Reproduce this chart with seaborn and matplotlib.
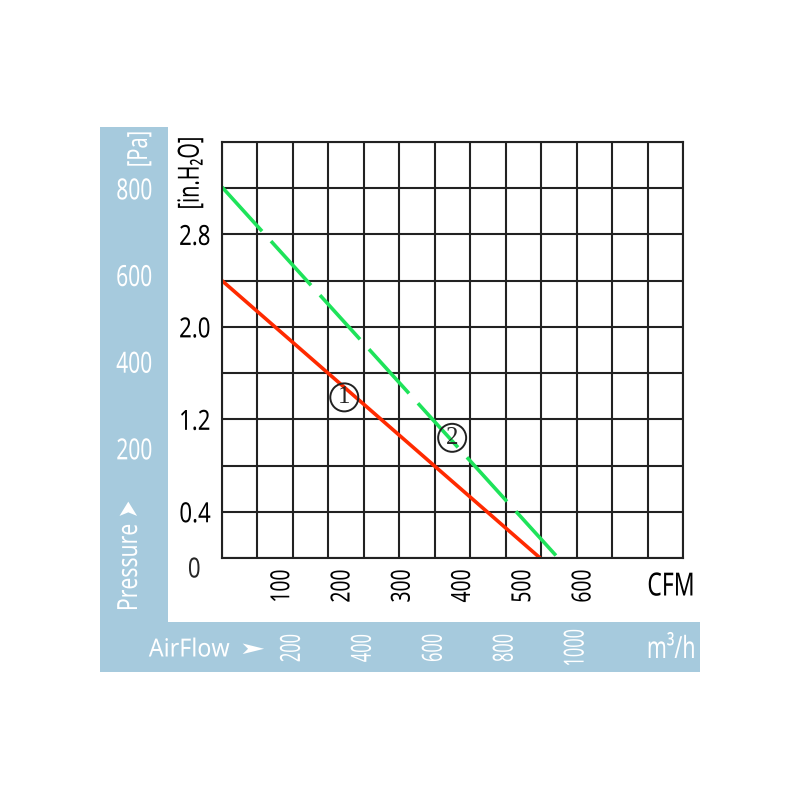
import seaborn as sns
import matplotlib.pyplot as plt
from matplotlib.patches import Rectangle
from matplotlib.patheffects import AbstractPathEffect
import matplotlib.transforms as mtransforms

# Fan curves (airflow in CFM, static pressure in in.H2O)
curve_1_cfm = [0, 528]
curve_1_inh2o = [2.40, 0.0]
curve_2_cfm = [0, 558]
curve_2_inh2o = [3.21, 0.0]

# where the curve numbers sit
curve_labels = ['1', '2']
curve_label_cfm = [203, 382]
curve_label_inh2o = [1.39, 1.04]

# axis ticks
cfm_ticks = [100, 200, 300, 400, 500, 600]
inh2o_ticks = [0.4, 1.2, 2.0, 2.8]
pa_ticks = [200, 400, 600, 800]
m3h_ticks = [200, 400, 600, 800, 1000]

M3H_PER_CFM = 1.699
grid_m3h = list(range(0, 1400, 100))          # vertical grid every 100 m3/h
grid_inh2o = [i * 0.4 for i in range(10)]     # horizontal grid every 0.4 in.H2O
pa_range = (-53, 907)                          # Pa scale as printed on the chart

band = '#a6cadd'
ink = '#222222'


class Narrow(AbstractPathEffect):
    """squeeze text along its baseline - the chart uses a very condensed face"""

    def __init__(self, factor, anchor='center'):
        super().__init__()
        self.factor = factor
        self.anchor = anchor

    def draw_path(self, renderer, gc, tpath, affine, rgbFace=None):
        ext = tpath.get_extents()
        cx = {'left': ext.x0, 'right': ext.x1}.get(self.anchor, (ext.x0 + ext.x1) / 2)
        squeeze = mtransforms.Affine2D().translate(-cx, 0).scale(self.factor, 1).translate(cx, 0)
        renderer.draw_path(gc, tpath, squeeze + affine, rgbFace)


sns.set_style('white')
plt.rcParams['font.family'] = ['Noto Sans', 'DejaVu Sans']

fig = plt.figure(figsize=(8, 8), dpi=100)


def ftext(x, y, s, factor, anchor='center', **kw):
    t = fig.text(x, y, s, **kw)
    t.set_path_effects([Narrow(factor, anchor)])
    return t


# light blue L-shaped band
fig.add_artist(Rectangle((0.125, 0.16), 0.085, 0.68125, transform=fig.transFigure,
                         facecolor=band, edgecolor='none', zorder=0))
fig.add_artist(Rectangle((0.125, 0.16), 0.75, 0.0625, transform=fig.transFigure,
                         facecolor=band, edgecolor='none', zorder=0))

ax = fig.add_axes([0.2775, 0.3025, 0.57625, 0.52])

sns.lineplot(x=curve_1_cfm, y=curve_1_inh2o, ax=ax, color='#ff2a00', linewidth=2.6)
sns.lineplot(x=curve_2_cfm, y=curve_2_inh2o, ax=ax, color='#1ee35a', linewidth=2.6,
             linestyle=(0, (16.5, 3.7)))

ax.set_xlim(0, grid_m3h[-1] / M3H_PER_CFM)
ax.set_ylim(0, grid_inh2o[-1])

# grid
ax.set_xticks([v / M3H_PER_CFM for v in grid_m3h], minor=True)
ax.set_yticks(grid_inh2o, minor=True)
ax.set_axisbelow(True)
ax.xaxis.grid(True, which='minor', color=ink, linewidth=1.5)
ax.yaxis.grid(True, which='both', color=ink, linewidth=1.5)
for s in ax.spines.values():
    s.set_color(ink)
    s.set_linewidth(1.5)

# CFM ticks
ax.set_xticks(cfm_ticks)
ax.set_xticklabels([str(v) for v in cfm_ticks], rotation=90)
ax.tick_params(axis='x', which='major', direction='in', length=4, width=1.4,
               color=ink, pad=8, labelsize=19, labelcolor='black')
ax.tick_params(which='minor', length=0)
for t in ax.get_xticklabels():
    t.set_path_effects([Narrow(0.73, 'right')])

# in.H2O ticks
ax.set_yticks(inh2o_ticks)
ax.set_yticklabels([f'{v:.1f}' for v in inh2o_ticks])
ax.tick_params(axis='y', which='major', length=0, pad=8, labelsize=20, labelcolor='black')
for t in ax.get_yticklabels():
    t.set_path_effects([Narrow(0.8, 'right')])
zero = ax.annotate('0', xy=(0, 0), xycoords=('axes fraction', 'data'), xytext=(-20, -9),
                   textcoords='offset points', ha='center', va='center', fontsize=20)
zero.set_path_effects([Narrow(0.8)])

# curve numbers in circles
for lab, x, y in zip(curve_labels, curve_label_cfm, curve_label_inh2o):
    ax.text(x, y, lab, ha='center', va='center', fontsize=18, family='Liberation Serif',
            bbox=dict(boxstyle='circle,pad=0.12', facecolor='none', edgecolor=ink, lw=1.4))

# Pa scale in the blue band
ax_pa = ax.twinx()
ax_pa.set_ylim(*pa_range)
ax_pa.set_yticks(pa_ticks)
ax_pa.set_yticklabels([str(v) for v in pa_ticks])
ax_pa.yaxis.set_ticks_position('left')
ax_pa.tick_params(axis='y', length=0, pad=50, labelsize=21, labelcolor='white',
                  labelleft=True, labelright=False)
for t in ax_pa.get_yticklabels():
    t.set_path_effects([Narrow(0.72, 'right')])
for s in ax_pa.spines.values():
    s.set_visible(False)
ax_pa.grid(False)

# m3/h scale in the bottom band
mix = mtransforms.blended_transform_factory(ax.transData, fig.transFigure)
for v in m3h_ticks:
    t = ax.text(v / M3H_PER_CFM, 1 - 648 / 800, str(v), transform=mix, rotation=90,
                ha='center', va='center', fontsize=20, color='white', clip_on=False)
    t.set_path_effects([Narrow(0.59)])

# unit and axis titles
ftext(0.175, 1 - 149 / 800, '[Pa]', 0.72, rotation=90, ha='center', va='center',
      fontsize=20, color='white')
ftext(0.1625, 1 - 556 / 800, 'Pressure ➤', 0.76, rotation=90, ha='center', va='center',
      fontsize=20, color='white')
ftext(0.239, 1 - 173 / 800, '[in.H₂O]', 0.68, rotation=90, ha='center', va='center',
      fontsize=21, color='black')
ftext(0.839, 1 - 587 / 800, 'CFM', 0.72, ha='center', va='center', fontsize=23,
      color='black')
ftext(0.186, 1 - 650 / 800, 'AirFlow', 0.93, 'left', ha='left', va='center',
      fontsize=18, color='white')
ftext(0.316, 1 - 650 / 800, '➤', 1.9, ha='center', va='center', fontsize=12,
      color='white')
ftext(0.839, 1 - 650 / 800, 'm³/h', 0.7, ha='center', va='center', fontsize=22,
      color='white')

plt.savefig('out.png', dpi=100)
